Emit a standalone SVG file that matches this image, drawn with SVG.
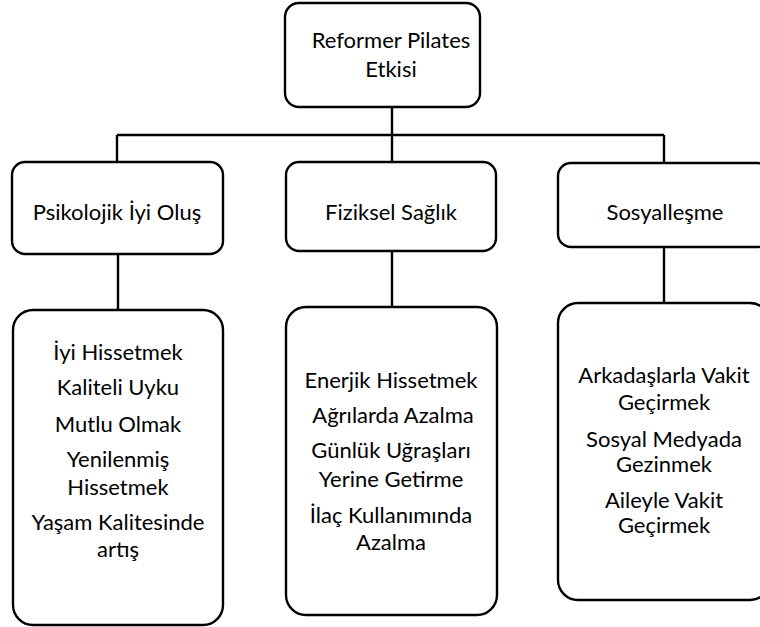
<svg xmlns="http://www.w3.org/2000/svg" width="760" height="627" viewBox="0 0 760 627">
  <style>
    .box { fill: #ffffff; stroke: #000000; stroke-width: 2.4; }
    .link { fill: none; stroke: #000000; stroke-width: 2.4; }
    text { font-family: Lato, "Open Sans", "Noto Sans", sans-serif; font-size: 22px; fill: #000000; text-anchor: middle; }
  </style>
  <rect width="760" height="627" fill="#ffffff"/>

  <!-- tree connectors -->
  <g id="connectors">
    <path class="link" d="M392,107 V135 M117,135 H664 M117,135 V162 M392,135 V162 M664,135 V163"/>
    <path class="link" d="M118,254 V310 M392,251 V307 M664,247 V303"/>
  </g>

  <!-- root -->
  <g id="root">
    <rect class="box" x="285" y="3" width="195" height="104" rx="14"/>
    <text x="391" y="48">Reformer Pilates</text>
    <text x="391" y="77">Etkisi</text>
  </g>

  <!-- second level -->
  <g id="psikolojik">
    <rect class="box" x="12" y="162" width="211" height="92" rx="13"/>
    <text x="117" y="220">Psikolojik İyi Oluş</text>
  </g>
  <g id="fiziksel">
    <rect class="box" x="286" y="162" width="210" height="89" rx="13"/>
    <text x="391" y="220">Fiziksel Sağlık</text>
  </g>
  <g id="sosyallesme">
    <rect class="box" x="558" y="163" width="212" height="84" rx="13"/>
    <text x="665" y="220">Sosyalleşme</text>
  </g>

  <!-- detail lists -->
  <g id="psikolojik-detay">
    <rect class="box" x="13" y="310" width="210" height="315" rx="20"/>
    <text x="118" y="360">İyi Hissetmek</text>
    <text x="118" y="395">Kaliteli Uyku</text>
    <text x="118" y="432">Mutlu Olmak</text>
    <text x="118" y="467">Yenilenmiş</text>
    <text x="118" y="495">Hissetmek</text>
    <text x="118" y="530">Yaşam Kalitesinde</text>
    <text x="118" y="557">artış</text>
  </g>
  <g id="fiziksel-detay">
    <rect class="box" x="286" y="307" width="211" height="308" rx="20"/>
    <text x="391" y="388">Enerjik Hissetmek</text>
    <text x="393" y="423">Ağrılarda Azalma</text>
    <text x="391" y="458">Günlük Uğraşları</text>
    <text x="391" y="487">Yerine Getirme</text>
    <text x="391" y="523">İlaç Kullanımında</text>
    <text x="391" y="550">Azalma</text>
  </g>
  <g id="sosyallesme-detay">
    <rect class="box" x="558" y="303" width="212" height="297" rx="20"/>
    <text x="664" y="383">Arkadaşlarla Vakit</text>
    <text x="664" y="410">Geçirmek</text>
    <text x="664" y="447">Sosyal Medyada</text>
    <text x="664" y="472">Gezinmek</text>
    <text x="664" y="508">Aileyle Vakit</text>
    <text x="664" y="533">Geçirmek</text>
  </g>
</svg>
